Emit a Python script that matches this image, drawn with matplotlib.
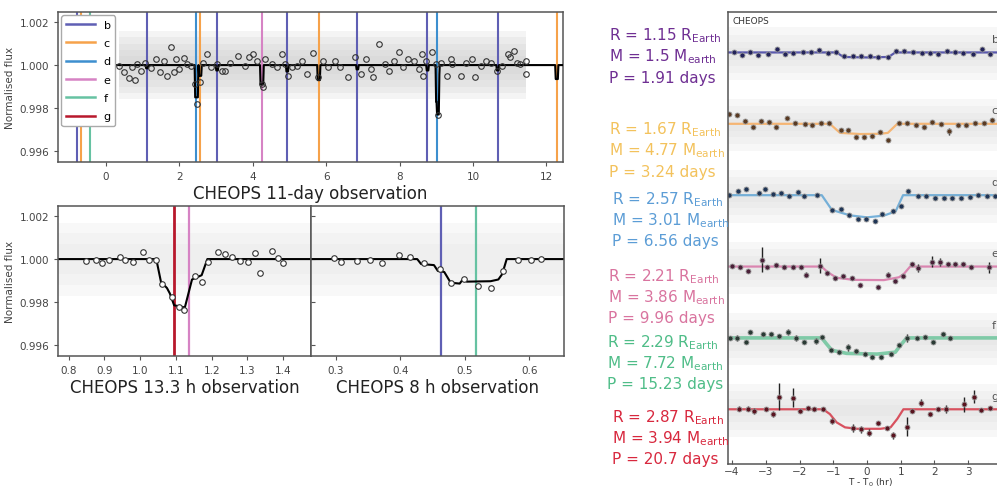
import matplotlib.pyplot as plt
from matplotlib.lines import Line2D
import numpy as np

# ---------------- data ----------------
planets = ['b', 'c', 'd', 'e', 'f', 'g']
line_cols = ['#5f5fb4', '#f6a24a', '#3d8fcf', '#d683c4', '#66c2a2', '#b8182c']

# 11-day light curve, binned points (days, flux-1 in ppt)
long_t = [0.36, 0.50, 0.63, 0.72, 0.79, 0.86, 0.95, 1.07, 1.22, 1.36, 1.49, 1.58, 1.67, 1.79,
          1.85, 1.92, 1.99, 2.12, 2.21, 2.33, 2.44, 2.48, 2.57, 2.66, 2.76, 2.87, 3.03, 3.16,
          3.25, 3.39, 3.61, 3.79, 3.89, 4.02, 4.11, 4.25, 4.27, 4.34, 4.52, 4.65, 4.79, 4.88,
          4.97, 5.06, 5.20, 5.33, 5.47, 5.63, 5.78, 5.92, 6.05, 6.23, 6.37, 6.59, 6.78, 6.96,
          7.09, 7.23, 7.27, 7.45, 7.59, 7.72, 7.86, 7.99, 8.09, 8.22, 8.40, 8.54, 8.60, 8.63,
          8.72, 8.87, 8.99, 9.05, 9.12, 9.30, 9.40, 9.44, 9.67, 9.80, 9.98, 10.05, 10.21, 10.34,
          10.48, 10.66, 10.79, 10.96, 11.02, 11.11, 11.20, 11.29, 11.43, 11.45]
long_dev = [-0.03, -0.34, -0.60, -0.11, -0.68, 0.05, -0.29, 0.12, -0.14, 0.28, -0.34, 0.20, -0.50, 0.85,
            -0.34, 0.28, -0.19, 0.33, 0.05, -0.03, -0.88, -1.81, -0.81, 0.12, 0.51, -0.11, 0.05, -0.26,
            -0.26, 0.12, 0.43, -0.03, 0.39, 0.51, 0.20, -0.88, -1.04, 0.28, 0.05, -0.11, 0.51, 0.05,
            -0.50, -0.11, -0.03, 0.20, -0.42, 0.54, -0.57, 0.20, -0.11, 0.20, -0.11, -0.57, 0.36, -0.42,
            0.28, -0.19, -0.54, 0.98, 0.05, -0.26, 0.20, 0.59, -0.11, 0.28, 0.20, -0.19, 0.51, -0.50,
            0.20, 0.59, 0.05, -2.30, 0.12, -0.50, 0.28, 0.05, -0.50, 0.12, 0.28, -0.57, -0.03, 0.20,
            0.12, -0.26, -0.03, 0.51, 0.36, 0.67, 0.12, 0.05, 0.20, -0.42]

# transit marker times in the 11-day window
vline_t = {'b': [-0.79, 1.12, 3.03, 4.94, 6.85, 8.76, 10.67],
           'c': [-0.68, 2.56, 5.80, 12.28],
           'd': [2.47, 9.03],
           'e': [4.25],
           'f': [-0.43],
           'g': []}

# model dips of the 11-day fit: centre (d), depth (ppt), width (d)
dip_t = [1.12, 2.47, 2.57, 3.03, 4.25, 4.94, 5.80, 6.85, 8.76, 9.03, 9.05, 10.67, 12.28]
dip_depth = [0.15, 1.5, 0.5, 0.25, 0.9, 0.3, 0.7, 0.2, 0.25, 1.7, 0.6, 0.25, 0.65]
dip_width = [0.07, 0.10, 0.085, 0.07, 0.10, 0.07, 0.085, 0.07, 0.07, 0.10, 0.085, 0.07, 0.085]

# 13.3 h observation
t13 = [0.848, 0.876, 0.894, 0.913, 0.944, 0.957, 0.981, 1.009, 1.025, 1.044, 1.061, 1.088, 1.109, 1.123,
       1.154, 1.173, 1.190, 1.218, 1.237, 1.256, 1.280, 1.302, 1.321, 1.336, 1.369, 1.385, 1.401]
dev13 = [-0.09, -0.05, -0.20, -0.02, 0.08, -0.02, -0.13, 0.31, -0.05, -0.02, -1.14, -1.77, -2.23, -2.39,
         -0.80, -1.06, -0.13, 0.34, 0.23, 0.11, -0.08, -0.13, 0.27, -0.67, 0.39, 0.03, -0.16]
model13_t = [0.77, 1.045, 1.058, 1.075, 1.083, 1.095, 1.125, 1.135, 1.145, 1.172, 1.188, 1.48]
model13_dev = [0, 0, -1.05, -1.35, -1.6, -2.15, -2.25, -1.6, -0.95, -0.75, 0, 0]
vline13 = {'g': 1.095, 'e': 1.137}

# 8 h observation
t8 = [0.296, 0.308, 0.333, 0.353, 0.371, 0.397, 0.415, 0.436, 0.462, 0.478, 0.498, 0.520, 0.541,
      0.559, 0.582, 0.602, 0.618]
dev8 = [0.05, -0.13, -0.08, -0.03, -0.16, 0.20, 0.11, -0.20, -0.47, -1.09, -0.94, -1.25, -1.36,
        -0.55, -0.03, -0.03, 0.0]
model8_t = [0.26, 0.426, 0.432, 0.452, 0.458, 0.468, 0.478, 0.492, 0.497, 0.503, 0.54, 0.552, 0.558,
            0.565, 0.655]
model8_dev = [0, 0, -0.23, -0.28, -0.55, -0.6, -1.1, -1.14, -0.94, -1.05, -1.03, -0.95, -0.7, 0, 0]
vline8 = {'b': 0.463, 'f': 0.517}

# phase-folded transits (hours, ppm)
fold_t = {
    'b': [-3.93, -3.71, -3.47, -3.22, -2.94, -2.67, -2.43, -2.18, -1.91, -1.66, -1.41, -1.16, -0.91,
          -0.67, -0.42, -0.17, 0.09, 0.34, 0.61, 0.86, 1.11, 1.36, 1.63, 1.88, 2.12, 2.37, 2.62, 2.86,
          3.13, 3.41, 3.66],
    'c': [-4.08, -3.86, -3.63, -3.37, -3.14, -2.90, -2.69, -2.38, -2.13, -1.85, -1.62, -1.36, -1.12,
          -0.78, -0.57, -0.33, -0.10, 0.14, 0.39, 0.61, 0.96, 1.20, 1.45, 1.70, 1.94, 2.19, 2.44, 2.69,
          2.93, 3.19, 3.46, 3.71],
    'd': [-4.09, -3.83, -3.59, -3.20, -3.02, -2.80, -2.56, -2.30, -2.05, -1.88, -1.49, -1.04, -0.78,
          -0.53, -0.27, -0.03, 0.24, 0.46, 0.76, 1.01, 1.23, 1.51, 1.76, 2.02, 2.27, 2.52, 2.79, 3.04,
          3.29, 3.56, 3.80],
    'e': [-3.99, -3.77, -3.54, -3.12, -2.97, -2.70, -2.46, -2.20, -1.96, -1.80, -1.39, -1.19, -0.94,
          -0.70, -0.45, -0.22, 0.32, 0.61, 0.84, 1.08, 1.33, 1.51, 1.92, 2.17, 2.40, 2.62, 2.86, 3.09,
          3.61],
    'f': [-4.06, -3.84, -3.59, -3.47, -3.07, -2.84, -2.60, -2.35, -2.10, -1.86, -1.51, -1.32, -1.06,
          -0.82, -0.57, -0.32, -0.07, 0.16, 0.42, 0.71, 0.95, 1.20, 1.48, 1.73, 1.97, 2.24, 2.47],
    'g': [-3.80, -3.53, -3.35, -2.98, -2.79, -2.62, -2.20, -2.00, -1.76, -1.57, -1.31, -1.04, -0.40,
          -0.17, 0.06, 0.32, 0.59, 0.76, 1.20, 1.35, 1.61, 1.86, 2.10, 2.35, 2.89, 3.16, 3.39, 3.64],
}
fold_dev = {
    'b': [0, -100, 0, -100, -70, 155, -70, -30, 0, 0, 115, -30, 0, -140, -140, -140, -170, -210,
          -210, 40, 40, 0, -30, -30, -70, 40, 0, -30, -70, 140, -70],
    'c': [420, 350, 100, -115, 100, 70, -115, 240, 30, 0, -70, 30, 30, -280, -250, -535, -535, -495,
          -350, -660, 30, 30, -40, -115, 70, 0, -310, -40, -40, 30, 40, 180],
    'd': [0, 180, 280, 85, 255, 40, 85, -55, 115, -30, 0, -620, -560, -845, -985, -985, -1085, -800,
          -665, -450, 180, -55, -55, -100, -100, -125, -100, -70, 0, -30, -30],
    'e': [30, 0, -170, 280, -40, 70, 0, -30, -30, -350, 30, -280, -495, -395, -465, -775, -845, -350,
          -590, -395, 115, -70, 210, 180, 100, 100, 100, -30, -40],
    'f': [0, 0, -180, 240, 170, 170, 100, 240, 0, -180, -115, 30, -495, -605, -395, -535, -675, -790,
          -790, -675, -295, 0, -15, 30, -180, 170, -15],
    'g': [30, 30, -70, 0, -210, 535, 495, -70, 70, 30, 0, -495, -775, -845, -985, -590, -775, -1085,
          -730, -70, 280, -180, 0, 0, 210, 535, -30, 70],
}
fold_err = {
    'b': [40] * 31,
    'c': [60] * 13 + [80, 60, 60, 60, 60, 60, 60] + [60] * 6 + [150] + [60] * 5,
    'd': [80] * 31,
    'e': [60, 60, 80, 530, 60, 60, 60, 60, 60, 110, 320, 80, 60, 60, 60, 60, 60, 110, 60, 60, 60, 170,
          250, 170, 60, 60, 60, 60, 250],
    'f': [60, 120, 60, 60, 60, 60, 60, 130, 130, 60, 130, 60, 60, 60, 160, 60, 60, 60, 60, 60, 60, 170,
          60, 60, 60, 60, 60],
    'g': [110, 110, 130, 60, 130, 565, 390, 60, 60, 60, 60, 130, 170, 150, 150, 60, 60, 150, 400, 60, 150,
          60, 60, 170, 315, 275, 60, 60],
}
fold_model_t = {
    'b': [-4.12, -0.9, -0.7, 0.0, 0.64, 0.84, 4.3],
    'c': [-4.12, -1.1, -0.8, -0.2, 0.4, 0.62, 0.9, 4.3],
    'd': [-4.12, -1.34, -1.04, -0.5, 0.0, 0.5, 0.85, 1.07, 4.3],
    'e': [-4.12, -1.35, -1.15, -0.9, -0.4, 0.5, 0.95, 1.1, 1.28, 4.3],
    'f': [-4.12, -1.34, -1.2, -1.04, -0.6, 0.3, 0.84, 1.0, 1.18, 4.3],
    'g': [-4.12, -1.3, -1.1, -0.9, -0.65, -0.3, 0.4, 0.7, 0.9, 1.08, 4.3],
}
fold_model_dev = {
    'b': [0, 0, -190, -210, -190, 0, 0],
    'c': [0, 0, -380, -430, -420, -380, 0, 0],
    'd': [0, 0, -620, -850, -930, -860, -680, 0, 0],
    'e': [0, 0, -250, -470, -560, -570, -450, -300, 0, 0],
    'f': [0, 0, -250, -520, -650, -680, -600, -300, 0, 0],
    'g': [0, 0, -200, -550, -760, -820, -820, -760, -400, 0, 0],
}
fold_col = ['#4a48a6', '#f7b067', '#68a9d6', '#d97aaa', '#74c7a0', '#d6404f']
fold_face = ['#23235a', '#5a3a22', '#1f3556', '#4a2038', '#2a3a34', '#5a1420']
offset_step = 3000

# planet parameters
radius = ['1.15', '1.67', '2.57', '2.21', '2.29', '2.87']
mass = ['1.5', '4.77', '3.01', '3.86', '7.72', '3.94']
period = ['1.91', '3.24', '6.56', '9.96', '15.23', '20.7']
text_cols = ['#6f2f93', '#f3c25c', '#5c9dd6', '#d9749f', '#4fbd88', '#d8283e']
text_y = [36, 130, 200, 277, 343, 418]       # px from top, first line
text_x = [609, 609, 612, 608, 607, 612]

# ---------------- figure ----------------
fig = plt.figure(figsize=(9.97, 4.89), dpi=100)
W, H = 997.0, 489.0


def px_axes(l, t, r, b):
    return fig.add_axes([l / W, 1 - b / H, (r - l) / W, (b - t) / H])


def style(ax):
    for s in ax.spines.values():
        s.set_color('#555555')
        s.set_linewidth(1.1)
    ax.tick_params(labelsize=7.5, labelcolor='#444444', color='#555555', length=3, width=0.8)


def cloud(ax, x0, x1, base, halfs, col, alpha):
    # faint scatter of unbinned points, drawn as stacked soft bands
    for h in halfs:
        ax.fill_between([x0, x1], base - h, base + h, color=col, alpha=alpha, lw=0, zorder=0)


ax1 = px_axes(58, 13, 563, 163)
ax2 = px_axes(58, 207, 311, 357)
ax3 = px_axes(311, 207, 564, 357)
ax4 = px_axes(728, 13, 1012, 465)

ylo, yhi = 0.99549, 1.00247

# --- 11-day panel
cloud(ax1, 0.35, 11.45, 1.0, [0.0016, 0.0013, 0.001, 0.0007, 0.0004], '#cfcfcf', 0.22)
for p, c in zip(planets, line_cols):
    for t in vline_t[p]:
        ax1.axvline(t, color=c, lw=1.5)
tm = np.arange(0.3, 12.6, 0.001)
fm = np.ones_like(tm)
for c0, d0, w0 in zip(dip_t, dip_depth, dip_width):
    fm -= d0 * 1e-3 * np.clip((w0 / 2 - np.abs(tm - c0)) / 0.012, 0, 1)
ax1.plot(tm, fm, color='black', lw=1.5, zorder=4)
ax1.plot(long_t, 1 + np.array(long_dev) * 1e-3, 'o', mfc='none', mec='#333333', ms=4, mew=0.8, zorder=5)
ax1.set_xlim(-1.3, 12.45)
ax1.set_ylim(ylo, yhi)
ax1.set_xticks([0, 2, 4, 6, 8, 10, 12])
ax1.set_yticks([0.996, 0.998, 1.000, 1.002])
ax1.set_yticklabels(['0.996', '0.998', '1.000', '1.002'])
ax1.set_ylabel('Normalised flux', fontsize=7.5, color='#444444', labelpad=3)
ax1.set_xlabel('CHEOPS 11-day observation', fontsize=12, color='#222222', labelpad=2)
handles = [Line2D([0], [0], color=c, lw=1.8) for c in line_cols]
leg = ax1.legend(handles, planets, loc='upper left', fontsize=8, labelspacing=0.75,
                 handlelength=2.6, borderaxespad=0.3, framealpha=1, edgecolor='#aaaaaa')
style(ax1)

# --- 13.3 h panel
cloud(ax2, 0.77, 1.48, 1.0, [0.0017, 0.0012, 0.0007], '#dddddd', 0.18)
for p, t in vline13.items():
    ax2.axvline(t, color=line_cols[planets.index(p)], lw=2.0 if p == 'g' else 1.6)
ax2.plot(model13_t, 1 + np.array(model13_dev) * 1e-3, color='black', lw=1.5)
ax2.plot(t13, 1 + np.array(dev13) * 1e-3, 'o', mfc='white', mec='#333333', ms=4, mew=0.8)
ax2.set_xlim(0.77, 1.478)
ax2.set_ylim(ylo, yhi)
ax2.set_xticks([0.8, 0.9, 1.0, 1.1, 1.2, 1.3, 1.4])
ax2.set_yticks([0.996, 0.998, 1.000, 1.002])
ax2.set_yticklabels(['0.996', '0.998', '1.000', '1.002'])
ax2.set_ylabel('Normalised flux', fontsize=7.5, color='#444444', labelpad=3)
ax2.set_xlabel('CHEOPS 13.3 h observation', fontsize=12, color='#222222', labelpad=2)
style(ax2)

# --- 8 h panel
cloud(ax3, 0.26, 0.655, 1.0, [0.0017, 0.0012, 0.0007], '#dddddd', 0.18)
for p, t in vline8.items():
    ax3.axvline(t, color=line_cols[planets.index(p)], lw=1.6)
ax3.plot(model8_t, 1 + np.array(model8_dev) * 1e-3, color='black', lw=1.5)
ax3.plot(t8, 1 + np.array(dev8) * 1e-3, 'o', mfc='white', mec='#333333', ms=4, mew=0.8)
ax3.set_xlim(0.261, 0.654)
ax3.set_ylim(ylo, yhi)
ax3.set_xticks([0.3, 0.4, 0.5, 0.6])
ax3.set_yticks([0.996, 0.998, 1.000, 1.002])
ax3.set_yticklabels([])
ax3.set_xlabel('CHEOPS 8 h observation', fontsize=12, color='#222222', labelpad=2)
style(ax3)
ax3.tick_params(axis='y', direction='in')

# --- phase-folded panel
for i, p in enumerate(planets):
    off = -i * offset_step
    cloud(ax4, -4.2, 4.4, off - 50, [1100, 800, 500, 250], '#d8d8d8', 0.18)
    ax4.plot(fold_model_t[p], np.array(fold_model_dev[p]) + off, color=fold_col[i],
             lw=2.6 if p == 'f' else 1.6, alpha=0.9)
    ax4.errorbar(fold_t[p], np.array(fold_dev[p]) + off, yerr=fold_err[p], fmt='o', ms=3.6,
                 mfc=fold_face[i], mec='#999999', mew=0.6, ecolor='#222222', elinewidth=1.0,
                 capsize=0)
    ax4.text(3.7, off + 560, p, fontsize=8, color='#555555', va='center')
ax4.text(0.015, 0.992, 'CHEOPS', transform=ax4.transAxes, fontsize=6.5, color='#333333',
         va='top', ha='left')
ax4.set_xlim(-4.12, 4.3)
ax4.set_ylim(-17300, 1700)
ax4.set_xticks([-4, -3, -2, -1, 0, 1, 2, 3])
ax4.set_yticks([])
ax4.set_xlabel('T - T$_0$ (hr)', fontsize=6.5, color='#333333', va='top')
ax4.xaxis.set_label_coords(0.5, -0.026)
style(ax4)
ax4.tick_params(axis='x', direction='in', labelsize=7.5, pad=1.5)

for i in range(6):
    c = text_cols[i]
    y0 = text_y[i]
    x0 = text_x[i] / W
    fig.text(x0, 1 - y0 / H, 'R = ' + radius[i] + r' R$_{\mathrm{Earth}}$', fontsize=11, color=c, va='center')
    fig.text(x0, 1 - (y0 + 21) / H, 'M = ' + mass[i] + r' M$_{\mathrm{earth}}$', fontsize=11, color=c, va='center')
    fig.text(x0, 1 - (y0 + 42) / H, 'P = ' + period[i] + ' days', fontsize=11, color=c, va='center')

fig.savefig('out.png', dpi=100)
